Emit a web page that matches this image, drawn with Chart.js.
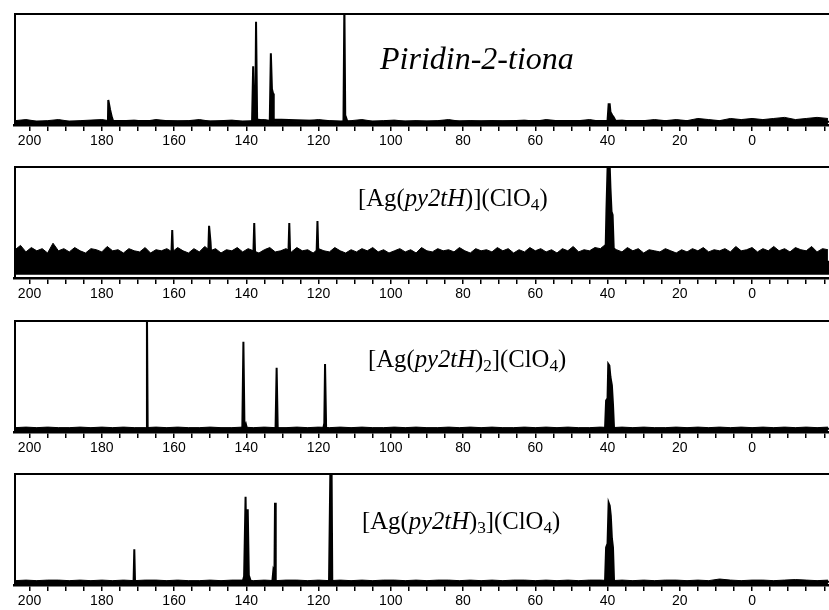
<!DOCTYPE html>
<html><head><meta charset="utf-8">
<script src="https://cdn.jsdelivr.net/npm/chart.js@4.4.1/dist/chart.umd.min.js"></script>
<style>
html,body{margin:0;padding:0;background:#fff;}
#wrap{position:relative;width:829px;height:610px;overflow:hidden;background:#fff;}
canvas{position:absolute;left:0;}
.t{position:absolute;font-family:"Liberation Serif","Times New Roman",serif;color:#000;white-space:nowrap;line-height:1;}
.t sub{font-size:0.7em;vertical-align:-0.25em;line-height:0;}
</style></head><body>
<div id="wrap">
<canvas id="c1" width="829" height="150" style="top:0px"></canvas>
<canvas id="c2" width="829" height="150" style="top:153px"></canvas>
<canvas id="c3" width="829" height="150" style="top:307px"></canvas>
<canvas id="c4" width="829" height="150" style="top:460px"></canvas>
<div class="t" id="t1" style="left:380px;top:42px;font-size:32px;"><i>Piridin-2-tiona</i></div>
<div class="t" id="t2" style="left:358px;top:186px;font-size:24.7px;">[Ag(<i>py2tH</i>)](ClO<sub>4</sub>)</div>
<div class="t" id="t3" style="left:368px;top:347px;font-size:24.7px;">[Ag(<i>py2tH</i>)<sub>2</sub>](ClO<sub>4</sub>)</div>
<div class="t" id="t4" style="left:362px;top:509px;font-size:24.7px;">[Ag(<i>py2tH</i>)<sub>3</sub>](ClO<sub>4</sub>)</div>
</div>
<script>
// ---- axis ----
const X_MAX = 204.3, X_MIN = -21.3;
const Y_MIN = -3, Y_MAX = 100;
const tickLabels = [200,180,160,140,120,100,80,60,40,20,0];

// ---- baseline noise grid (ppm), coarse ----
const noiseShift = [204,201,198,195,192,189,186,183,180,177,174,171,168,165,162,159,156,153,150,147,
144,141,138,135,132,129,126,123,120,117,114,111,108,105,102,99,96,93,90,87,
84,81,78,75,72,69,66,63,60,57,54,51,48,45,42,39,36,33,30,27,
24,21,18,15,12,9,6,3,0,-3,-6,-9,-12,-15,-18,-21];

// ---- fine noise grid (ppm) for the noisy spectrum ----
const noiseShiftFine = [
204,202.5,201,199.5,198,196.5,195,193.5,192,190.5,
189,187.5,186,184.5,183,181.5,180,178.5,177,175.5,
174,172.5,171,169.5,168,166.5,165,163.5,162,160.5,
159,157.5,156,154.5,153,151.5,150,148.5,147,145.5,
144,142.5,141,139.5,138,136.5,135,133.5,132,130.5,
129,127.5,126,124.5,123,121.5,120,118.5,117,115.5,
114,112.5,111,109.5,108,106.5,105,103.5,102,100.5,
99,97.5,96,94.5,93,91.5,90,88.5,87,85.5,
84,82.5,81,79.5,78,76.5,75,73.5,72,70.5,
69,67.5,66,64.5,63,61.5,60,58.5,57,55.5,
54,52.5,51,49.5,48,46.5,45,43.5,42,40.5,
39,37.5,36,34.5,33,31.5,30,28.5,27,25.5,
24,22.5,21,19.5,18,16.5,15,13.5,12,10.5,
9,7.5,6,4.5,3,1.5,0,-1.5,-3,-4.5,
-6,-7.5,-9,-10.5,-12,-13.5,-15,-16.5,-18,-19.5,
-21];

// ---- Panel 1: Piridin-2-tiona ----
const p1Shift = [204.3,178.3,178.2,177.7,177.2,176.9,138.4,138.1,137.8,137.5,137.3,137.0,133.5,133.2,132.9,132.6,132.4,113.1,112.85,112.6,112.3,112.0,40.0,39.7,39.4,39.2,38.7,38.3,37.8,-21.3];
const p1Int   = [0,0,20,11,4,1,0,51,3,3,92,2,0,63,30,26,2,0,110,0,3,0,1,16,16,9,6,4,1,0];
const p1NoiseHi = [1,2,0.5,1,2,0.5,1,1.5,2,0.5, 1,1.5,0.5,2,1,0.5,1,2,0.5,1, 1.5,0.5,1,2,0.5,1,0.5,1,2,1, 0.5,1,2,0.5,1,1.5,0.5,1,0.5,1,
2,0.5,1,0.5,1,0.5,1,1.5,0.5,2, 1,0.5,1,2,0.5,1,1.5,0.5,1,2, 1,2,1,3,2,1,3,2,3,2, 3,4,2,3,4,3];

// ---- Panel 2: [Ag(py2tH)](ClO4) ----
const p2Shift = [204.3,160.8,160.5,160.2,150.6,150.3,149.9,149.6,138.1,137.8,137.5,128.4,128.1,127.8,120.6,120.3,120.0,40.6,40.3,39.9,39.5,39.2,38.9,38.6,38.3,38.0,-21.3];
const p2Int   = [12,12,41,12,12,45,30,12,12,47.6,12,12,47.6,12,12,49.4,12,12,60,110,110,80,58,55,25,12,12];
const p2NoiseHi = [
23,27,21,25,22,24,20,29,22,24,
21,25,22,20,24,23,21,26,22,23,
20,24,22,21,25,20,23,22,24,21,
25,22,20,24,21,26,22,24,20,23,
22,25,21,24,22,20,23,25,21,22,
24,21,25,22,23,20,24,22,21,25,
22,20,23,21,24,22,25,21,23,20,
22,24,21,23,20,25,22,21,24,22,
23,21,25,22,20,24,22,23,21,25,
22,24,20,23,21,25,22,24,21,23,
20,24,22,26,21,23,22,25,24,28,
26,23,21,25,22,24,20,23,22,21,
24,22,20,23,21,24,22,25,21,23,
22,24,21,26,22,23,25,21,24,22,
26,22,24,21,25,23,22,26,21,24,
23];
const p2NoiseLo = [
5,2,6,4,7,3,5,6,1,5,
6,3,7,5,2,6,4,7,3,5,
6,2,5,7,4,6,3,5,7,4,
2,6,5,3,7,4,6,2,5,6,
4,7,3,5,6,2,5,4,7,3,
6,4,2,6,5,7,3,5,6,4,
7,3,5,6,2,6,4,7,5,3,
6,4,7,2,5,6,4,3,6,5,
3,7,5,4,6,2,5,7,4,6,
5,3,6,4,7,5,2,6,4,5,
7,4,6,3,5,6,4,7,5,12,
12,6,4,7,5,3,6,4,7,5,
2,6,4,7,5,3,6,4,7,5,
3,6,4,7,5,2,6,4,7,3,
5,6,4,7,3,5,6,2,5,6,
4];

// ---- Panel 3: [Ag(py2tH)2](ClO4) ----
const p3Shift = [204.3,167.7,167.5,167.3,141.1,140.8,140.5,140.1,139.8,131.9,131.6,131.3,118.7,118.4,118.2,117.9,40.7,40.4,40.0,39.8,39.5,39.2,38.8,38.5,38.2,-21.3];
const p3Int   = [0,0,110,0,0,80,0,4,0,0,56,0,0,5,59.5,0,0,26,28,59.5,58,47.6,40,22.7,0,0];
const p3NoiseHi = [1,1.5,1,1.5,1,1,1.5,1,1.5,1, 1.5,1,1,1.5,1,1.5,1,1,1.5,1, 1,1.5,1,1.5,1,1,1.5,1,1.5,1, 1.5,1,1.5,1,1,1.5,1,1.5,1,1,
1.5,1,1.5,1,1.5,1,1,1.5,1,1.5, 1,1.5,1,1,1.5,1,1.5,1,1.5,1, 1,1.5,1,1.5,1,1.5,1,1.5,1,1.5, 1,1.5,1,1.5,1,1.5];

// ---- Panel 4: [Ag(py2tH)3](ClO4) ----
const p4Shift = [204.3,171.2,171.0,170.8,141.0,140.6,140.2,139.9,139.6,139.3,138.7,132.8,132.5,132.2,132.05,131.85,117.1,116.7,116.4,116.2,40.7,40.4,40.0,39.7,39.4,39.1,38.8,38.5,38.2,-21.3];
const p4Int   = [0,0,29.8,0,0,5,78.2,8,66.6,6,0,0,10.8,8,72.7,0,0,110,110,0,0,31.6,35,72.7,70,60.5,40,31.6,0,0];
const p4NoiseHi = [1,1.5,1,1.5,1.5,1,1.5,1,1.5,1, 1.5,1,1.5,1.5,1,1.5,1,1,1.5,1, 1.5,1.5,1,1.5,1,1.5,1.5,1,1.5,1, 1.5,1,1.5,1,1.5,1.5,1,1.5,1,1.5,
1.5,1,1.5,1,1.5,1,1.5,1.5,1,1.5, 1,1.5,1,1.5,1.5,1,1.5,1,1.5,1, 1.5,1.5,1,1.5,1,2.5,1.5,1,1.5,1.5, 1,1.5,2,1.5,1,1.5];

const framePlugin = {
  id: 'frame',
  afterDraw(chart) {
    const {ctx, chartArea: a} = chart;
    ctx.save();
    ctx.strokeStyle = '#000';
    ctx.lineWidth = 2;
    ctx.beginPath();
    ctx.moveTo(a.left + 1, a.bottom);
    ctx.lineTo(a.left + 1, a.top + 1);
    ctx.lineTo(a.right, a.top + 1);
    ctx.stroke();
    ctx.restore();
  }
};

function pts(xs, ys) { return xs.map((x, i) => ({x, y: ys[i]})); }

function build(id, shifts, ints, grid, hi, lo) {
  const datasets = [];
  if (lo) {
    datasets.push({data: pts(grid, lo), borderColor: '#000', borderWidth: 1, pointRadius: 0, fill: false, tension: 0});
    datasets.push({data: pts(grid, hi), borderColor: '#000', borderWidth: 1, pointRadius: 0, fill: '-1', backgroundColor: '#000', tension: 0});
  } else {
    datasets.push({data: pts(grid, hi), borderColor: '#000', borderWidth: 1, pointRadius: 0, fill: {value: Y_MIN}, backgroundColor: '#000', tension: 0});
  }
  datasets.push({data: pts(shifts, ints), borderColor: '#000', borderWidth: 2, pointRadius: 0, fill: 'origin', backgroundColor: '#000', tension: 0});
  new Chart(document.getElementById(id), {
    type: 'line',
    data: {datasets},
    options: {
      responsive: false, animation: false, events: [],
      layout: {padding: {top: 13, left: 14, right: 0, bottom: 0}},
      plugins: {legend: {display: false}, tooltip: {enabled: false}},
      scales: {
        x: {
          type: 'linear', reverse: true, min: X_MIN, max: X_MAX,
          afterFit(s) { s.height = 25; },
          border: {display: true, color: '#000', width: 2.5},
          grid: {drawOnChartArea: false, drawTicks: true, tickLength: 6, color: '#000', lineWidth: 1.5},
          ticks: {
            stepSize: 5, autoSkip: false, maxRotation: 0, includeBounds: false, padding: 2, color: '#000',
            font: {family: '"Liberation Sans", Arial, sans-serif', size: 14},
            callback(v) {
              const r = Math.round(v);
              if (Math.abs(v - r) > 1e-6 || r % 5 !== 0) return null;
              return tickLabels.includes(r) ? String(r) : '';
            }
          }
        },
        y: {display: false, min: Y_MIN, max: Y_MAX}
      }
    },
    plugins: [framePlugin]
  });
}

build('c1', p1Shift, p1Int, noiseShift, p1NoiseHi, null);
build('c2', p2Shift, p2Int, noiseShiftFine, p2NoiseHi, p2NoiseLo);
build('c3', p3Shift, p3Int, noiseShift, p3NoiseHi, null);
build('c4', p4Shift, p4Int, noiseShift, p4NoiseHi, null);
</script>
</body></html>
